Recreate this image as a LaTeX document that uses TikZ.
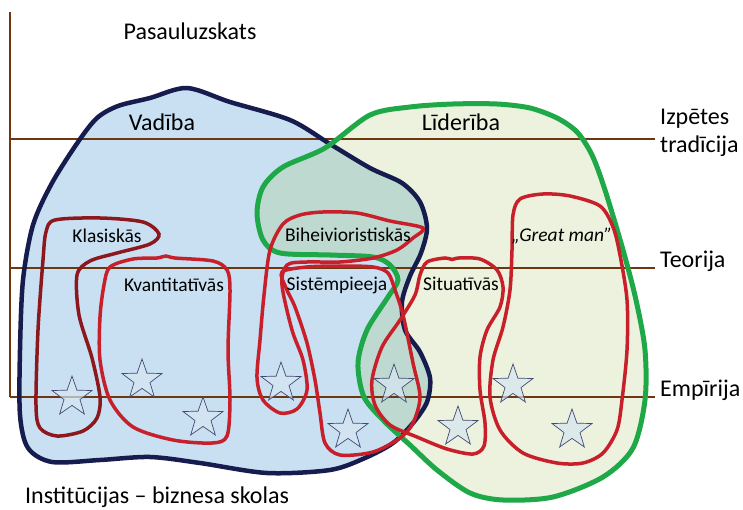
\documentclass[tikz,border=0pt]{standalone}
\usepackage{fontspec}
\setmainfont{Carlito}
\usepackage{tikz}
\usetikzlibrary{shapes.geometric}
\definecolor{vadfill}{RGB}{201,224,243}
\definecolor{lidfill}{RGB}{236,242,221}
\definecolor{kopfill}{RGB}{190,218,208}
\definecolor{vadline}{RGB}{22,28,78}
\definecolor{lidline}{RGB}{30,168,72}
\definecolor{loopred}{RGB}{200,32,42}
\definecolor{loopdark}{RGB}{140,24,30}
\definecolor{axisbrown}{RGB}{110,55,15}
\definecolor{starfill}{RGB}{214,230,242}

\newcommand{\vadibaPath}{plot[smooth cycle] coordinates {(187,88) (230,102) (290,120) (330,144) (370,168) (402,183) (420,202) (427,228) (421,253) (410,276) (402,302) (405,330) (420,352) (430,378) (427,402) (413,423) (393,443) (365,458) (330,470) (267,473) (200,463) (150,457) (100,460) (52,462) (28,448) (20,415) (20,350) (23,280) (33,225) (52,183) (78,142) (97,118) (118,106) (150,98)}}
\newcommand{\lideribaPath}{plot[smooth cycle] coordinates {(370,115) (410,107) (453,104) (497,104) (530,108) (557,118) (577,132) (592,155) (605,190) (623,250) (636,300) (645,350) (645,400) (633,448) (603,477) (553,497) (503,500) (470,493) (437,470) (410,445) (385,422) (364,397) (358,363) (367,330) (388,297) (398,280) (390,265) (373,257) (330,255) (280,253) (263,240) (257,213) (263,187) (283,167) (325,148)}}

\begin{document}
\begin{tikzpicture}[x=1pt, y=-1pt,
    bigtxt/.style={inner sep=0pt, anchor=base, font=\fontsize{24}{28}\selectfont},
    sidetxt/.style={inner sep=0pt, anchor=base west, font=\fontsize{24}{28}\selectfont},
    smalltxt/.style={inner sep=0pt, anchor=base, font=\fontsize{19.5}{22}\selectfont},
    zvaigzne/.style={star, star points=5, star point ratio=2.5, minimum size=42pt, inner sep=0pt, draw=vadline!80, line width=0.7pt, fill=starfill, fill opacity=0.7},
    cilpa/.style={draw=loopred, line width=3.5pt},
    ass/.style={draw=axisbrown, line width=2.5pt}]
  \useasboundingbox (0,0) rectangle (743,510);

  % laukumi
  \fill[vadfill] \vadibaPath;
  \fill[lidfill] \lideribaPath;
  \begin{scope}
    \clip \vadibaPath;
    \fill[kopfill] \lideribaPath;
  \end{scope}

  % asis
  \draw[ass] (10,12) -- (10,397);
  \draw[ass] (10,139) -- (655,139);
  \draw[ass] (10,268) -- (655,268);
  \draw[ass] (10,397) -- (655,397);

  \draw[draw=vadline, line width=4.5pt] \vadibaPath;
  \draw[draw=lidline, line width=5pt] \lideribaPath;

  % zvaigznes
  \node[zvaigzne] (s1) at (72,397)  {};
  \node[zvaigzne] (s2) at (142,380) {};
  \node[zvaigzne] (s3) at (203,418) {};
  \node[zvaigzne] (s4) at (281,383) {};
  \node[zvaigzne] (s5) at (348,430) {};
  \node[zvaigzne] (s6) at (394,385) {};
  \node[zvaigzne] (s7) at (458,427) {};
  \node[zvaigzne] (s8) at (513,385) {};
  \node[zvaigzne] (s9) at (572,430) {};

  % cilpas
  \draw[cilpa, draw=loopdark] plot[smooth cycle] coordinates {(55,220) (100,218) (143,222) (159,234) (150,244) (117,253) (90,261) (77,275) (79,315) (92,358) (100,397) (97,418) (83,431) (57,436) (40,428) (36,405) (38,330) (43,260) (46,232)};
  \draw[cilpa] plot[smooth cycle] coordinates {(110,267) (133,259) (157,258) (166,256) (175,258) (213,261) (227,270) (230,290) (228,350) (230,400) (227,436) (212,443) (173,440) (133,427) (110,400) (100,360) (100,317) (104,285)};
  \draw[cilpa] plot[smooth cycle] coordinates {(283,224) (300,215) (323,212) (357,213) (390,221) (423,228) (413,238) (397,250) (373,258) (340,262) (307,262) (287,265) (282,285) (292,330) (303,360) (307,390) (297,409) (280,413) (263,400) (257,378) (260,340) (264,295) (270,250)};
  \draw[cilpa] plot[smooth cycle] coordinates {(282,272) (307,267) (340,266) (373,267) (388,273) (395,290) (403,315) (413,363) (420,397) (413,423) (400,438) (373,452) (340,455) (325,443) (320,413) (315,380) (307,343) (295,307) (286,288)};
  \draw[cilpa] plot[smooth cycle] coordinates {(427,262) (445,258) (452,259.5) (459,258) (480,259) (497,270) (503,287) (500,307) (487,330) (480,357) (480,390) (485,423) (484,446) (473,454) (447,449) (417,437) (390,425) (375,405) (372,380) (382,347) (400,320) (415,295) (420,275)};
  \draw[cilpa] plot[smooth cycle] coordinates {(520,199) (543,194) (570,196) (600,206) (613,227) (620,255) (627,300) (627,350) (622,400) (617,430) (603,453) (583,463) (557,463) (523,453) (500,430) (490,397) (493,360) (503,327) (510,290) (512,250) (513,215)};

  % teksti
  \node[bigtxt] (pasaule) at (190,40) {Pasauluzskats};
  \node[bigtxt] (vadiba) at (162,131) {Vadība};
  \node[bigtxt] (lideriba) at (461,131) {Līderība};
  \node[sidetxt] (izpetes) at (660,125) {Izpētes};
  \node[sidetxt] (tradicija) at (660,153) {tradīcija};
  \node[sidetxt] (teorija) at (660,267) {Teorija};
  \node[sidetxt] (empirija) at (660,396) {Empīrija};
  \node[sidetxt] (instit) at (25,503) {Institūcijas – biznesa skolas};
  \node[smalltxt] (klas) at (107,243) {Klasiskās};
  \node[smalltxt] (kvant) at (174,291) {Kvantitatīvās};
  \node[smalltxt] (biheiv) at (348,242) {Biheivioristiskās};
  \node[smalltxt] (sistem) at (337,290) {Sistēmpieeja};
  \node[smalltxt] (situat) at (461,290) {Situatīvās};
  \node[smalltxt, font=\fontsize{19.5}{22}\selectfont\itshape] (great) at (562,242) {„Great man”};
\end{tikzpicture}
\end{document}
